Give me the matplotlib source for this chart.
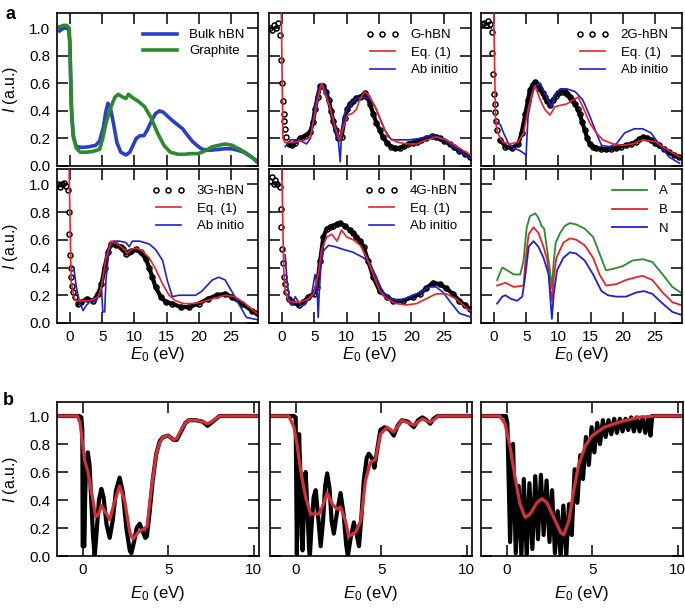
import matplotlib
matplotlib.use("Agg")
import matplotlib.pyplot as plt
from matplotlib.lines import Line2D
import numpy as np

plt.rcParams['font.family'] = ['Liberation Sans', 'DejaVu Sans']
plt.rcParams['mathtext.fontset'] = 'custom'
plt.rcParams['mathtext.rm'] = 'Liberation Sans'
plt.rcParams['mathtext.it'] = 'Liberation Sans:italic'

# ---------------- data: panel a ----------------
bulk_x = [-1.6,-1.0,-0.5,-0.2,0.0,0.2,0.5,1.0,2.0,3.0,4.0,4.6,5.2,5.6,5.9,6.3,6.8,7.3,7.9,8.7,9.3,9.8,10.3,10.9,11.5,12.0,12.7,13.3,13.9,14.5,15.2,15.9,16.7,17.5,18.3,19.0,19.7,20.4,21.2,22.0,23.0,24.0,25.0,26.0,27.0,28.0,29.0]
bulk_y = [0.98,1.0,1.0,0.99,0.9,0.45,0.22,0.14,0.135,0.14,0.15,0.18,0.28,0.40,0.455,0.42,0.3,0.17,0.1,0.08,0.1,0.15,0.2,0.22,0.22,0.26,0.33,0.38,0.40,0.39,0.36,0.33,0.3,0.27,0.22,0.18,0.15,0.125,0.115,0.115,0.12,0.125,0.125,0.115,0.1,0.07,0.04]
graph_x = [-1.6,-1.0,-0.5,-0.1,0.1,0.3,0.6,1.0,1.6,2.5,3.5,4.2,4.6,5.1,5.6,6.3,7.0,7.5,8.2,8.7,9.1,9.9,10.6,11.6,12.6,13.6,14.6,15.6,16.8,17.8,18.8,19.9,21.0,22.1,23.1,24.1,25.2,26.2,27.2,28.2,29.0]
graph_y = [1.01,1.02,1.02,1.0,0.7,0.35,0.2,0.13,0.1,0.1,0.105,0.115,0.12,0.2,0.31,0.42,0.5,0.52,0.5,0.49,0.52,0.49,0.47,0.43,0.35,0.24,0.15,0.1,0.085,0.085,0.09,0.09,0.11,0.14,0.15,0.16,0.15,0.125,0.1,0.065,0.03]

g_exp_x = [-1.8,-1.5,-1.2,-0.9,-0.6,-0.26,-0.1,0.0,0.15,0.26,0.36,0.5,0.67,1.03,1.54,2.0,2.8,3.6,4.4,4.8,5.1,5.5,5.9,6.4,6.8,7.2,7.6,7.9,8.3,8.7,9.2,9.7,10.1,10.5,11.0,11.5,12.0,12.4,12.8,13.2,13.6,14.1,14.6,15.1,15.6,16.2,16.9,17.5,18.2,18.9,19.5,20.2,20.8,21.5,22.3,23.1,23.8,24.4,25.1,25.9,26.6,27.4,28.2,29.1]
g_exp_y = [1.0,0.99,1.02,1.0,1.04,0.95,0.77,0.6,0.47,0.38,0.33,0.27,0.21,0.16,0.15,0.17,0.2,0.22,0.25,0.32,0.41,0.5,0.58,0.58,0.54,0.48,0.4,0.33,0.26,0.2,0.21,0.35,0.41,0.45,0.47,0.49,0.5,0.51,0.53,0.5,0.45,0.38,0.31,0.26,0.21,0.17,0.14,0.13,0.13,0.145,0.16,0.17,0.175,0.19,0.2,0.215,0.21,0.2,0.18,0.16,0.135,0.11,0.09,0.065]
g_eq_x = [-0.15,0.15,0.5,1.0,2.3,3.6,4.4,5.1,5.6,6.15,6.6,7.4,8.2,8.9,9.5,10.1,10.8,11.5,12.0,12.8,13.6,14.4,15.4,16.4,17.7,19.2,20.8,22.3,23.8,25.4,27.4,29.1]
g_eq_y = [1.3,0.2,0.17,0.17,0.175,0.19,0.21,0.38,0.5,0.6,0.53,0.43,0.285,0.19,0.28,0.37,0.38,0.41,0.48,0.54,0.5,0.43,0.31,0.21,0.175,0.16,0.16,0.19,0.21,0.19,0.13,0.08]
g_ab_x = [0.5,1.3,2.6,3.8,4.4,5.1,5.9,6.7,7.4,8.2,8.7,9.0,9.2,9.7,10.5,11.5,12.6,13.6,14.6,15.9,16.9,18.2,19.7,21.3,22.8,24.4,25.9,27.4,29.1]
g_ab_y = [0.14,0.19,0.19,0.16,0.2,0.43,0.59,0.56,0.43,0.26,0.19,0.03,0.24,0.38,0.45,0.49,0.5,0.49,0.41,0.26,0.19,0.19,0.19,0.2,0.22,0.21,0.16,0.11,0.055]

g2_exp_x = [-1.8,-1.5,-1.2,-0.9,-0.6,-0.35,-0.25,-0.1,0.0,0.1,0.2,0.3,0.5,1.0,1.8,2.8,3.8,4.3,4.9,5.3,5.6,6.0,6.4,6.8,7.2,7.6,7.9,8.3,8.7,9.2,9.6,10.0,10.5,11.0,11.4,11.8,12.2,12.6,13.0,13.3,13.7,14.1,14.5,14.9,15.4,15.9,16.6,17.4,18.2,19.0,19.7,20.5,21.3,22.0,22.6,23.1,23.7,24.4,25.0,25.6,26.4,27.2,28.0,28.8]
g2_exp_y = [1.03,1.04,1.02,1.05,1.03,0.97,0.82,0.67,0.52,0.45,0.39,0.33,0.26,0.19,0.14,0.13,0.16,0.24,0.38,0.48,0.55,0.59,0.61,0.59,0.56,0.53,0.5,0.47,0.44,0.48,0.51,0.53,0.54,0.54,0.52,0.5,0.48,0.45,0.41,0.38,0.32,0.26,0.2,0.16,0.14,0.13,0.125,0.12,0.125,0.13,0.14,0.15,0.16,0.175,0.195,0.21,0.205,0.19,0.17,0.15,0.125,0.1,0.08,0.065]
g2_eq_x = [-0.1,0.25,0.5,1.3,2.6,3.8,4.6,5.4,6.4,7.2,7.9,8.7,9.5,10.3,11.3,12.3,13.1,13.8,14.9,15.9,16.9,18.5,20.0,21.5,23.1,25.1,27.2,28.9]
g2_eq_y = [1.3,0.35,0.25,0.175,0.16,0.175,0.24,0.43,0.58,0.48,0.41,0.37,0.43,0.44,0.45,0.48,0.5,0.43,0.31,0.24,0.19,0.16,0.15,0.16,0.19,0.175,0.11,0.065]
g2_ab_x = [0.25,1.0,1.5,2.3,3.1,4.1,5.0,5.3,6.2,7.2,8.2,8.9,9.5,10.3,11.3,12.6,13.8,14.9,15.9,16.7,17.9,19.0,20.3,21.8,23.1,24.4,25.6,27.2,28.8]
g2_ab_y = [0.32,0.3,0.24,0.16,0.13,0.11,0.08,0.36,0.58,0.6,0.5,0.43,0.52,0.56,0.56,0.54,0.48,0.36,0.24,0.15,0.14,0.16,0.24,0.27,0.27,0.24,0.16,0.065,0.02]

g3_exp_x = [-1.8,-1.5,-1.2,-0.9,-0.6,-0.36,-0.15,-0.1,0.0,0.1,0.2,0.36,0.5,0.77,1.3,1.8,2.6,3.6,4.4,4.9,5.4,5.9,6.4,7.2,7.9,8.3,8.7,9.2,9.5,10.3,11.0,11.8,12.3,12.8,13.3,14.1,14.9,15.9,17.2,18.5,20.0,21.5,22.8,24.1,25.1,26.7,28.2,29.0]
g3_exp_y = [1.0,0.98,1.0,1.01,0.99,0.96,0.8,0.64,0.49,0.40,0.33,0.27,0.22,0.19,0.14,0.15,0.175,0.16,0.21,0.28,0.4,0.51,0.57,0.56,0.55,0.53,0.5,0.51,0.52,0.53,0.51,0.46,0.40,0.33,0.26,0.19,0.15,0.14,0.115,0.115,0.14,0.175,0.2,0.21,0.19,0.14,0.09,0.07]
g3_eq_x = [-0.2,0.2,0.5,0.8,1.8,3.1,4.4,4.9,5.6,6.4,7.4,8.5,8.9,9.5,10.3,11.3,12.3,13.3,14.4,15.4,16.4,17.7,19.0,20.5,22.1,24.1,25.6,27.2,29.0]
g3_eq_y = [1.3,0.3,0.22,0.16,0.16,0.16,0.19,0.26,0.47,0.59,0.57,0.53,0.5,0.53,0.54,0.52,0.47,0.39,0.28,0.2,0.16,0.14,0.14,0.15,0.175,0.2,0.19,0.14,0.07]
g3_ab_x = [0.25,0.6,1.0,1.5,2.05,2.6,3.3,4.1,4.6,4.9,5.1,5.4,5.6,6.05,6.7,7.7,8.7,9.2,9.7,10.8,12.3,13.3,14.4,15.1,15.9,16.9,17.9,19.5,20.5,22.1,23.1,24.1,25.1,26.2,27.4,29.0]
g3_ab_y = [0.4,0.4,0.26,0.15,0.09,0.13,0.16,0.16,0.21,0.26,0.08,0.08,0.31,0.52,0.59,0.59,0.58,0.55,0.59,0.59,0.57,0.53,0.45,0.31,0.19,0.2,0.2,0.2,0.23,0.31,0.33,0.31,0.23,0.14,0.04,0.025]

g4_exp_x = [-1.9,-1.6,-1.3,-1.0,-0.7,-0.36,-0.2,-0.1,0.0,0.1,0.26,0.41,0.67,1.03,1.54,2.56,3.3,4.1,4.9,5.4,5.9,6.4,6.9,7.4,7.9,8.5,9.0,9.7,10.5,11.0,11.5,12.1,12.6,13.3,14.1,15.1,16.2,17.2,18.7,20.3,21.3,22.3,23.3,24.4,25.4,26.4,27.4,28.2,29.0]
g4_exp_y = [1.02,1.05,1.0,1.03,1.0,0.98,0.82,0.69,0.53,0.43,0.33,0.28,0.22,0.175,0.15,0.13,0.15,0.19,0.21,0.26,0.45,0.62,0.68,0.69,0.7,0.71,0.72,0.7,0.67,0.65,0.62,0.59,0.55,0.45,0.33,0.23,0.19,0.16,0.16,0.19,0.21,0.25,0.29,0.28,0.25,0.21,0.16,0.13,0.1]
g4_eq_x = [-0.1,0.26,0.5,1.0,1.8,2.8,4.1,4.9,5.6,6.15,6.9,7.7,8.5,9.2,10.0,11.0,12.1,13.1,14.1,15.1,16.2,17.7,19.2,20.8,22.3,23.8,25.4,26.9,29.0]
g4_eq_y = [1.3,0.4,0.23,0.16,0.15,0.15,0.175,0.21,0.35,0.53,0.62,0.64,0.59,0.67,0.62,0.6,0.56,0.47,0.35,0.23,0.175,0.14,0.13,0.14,0.175,0.21,0.21,0.175,0.09]
g4_ab_x = [0.5,0.77,1.2,1.54,2.05,2.56,3.1,3.8,4.6,5.1,5.4,5.6,5.75,6.0,6.4,7.2,8.2,9.5,11.0,12.6,13.6,14.6,15.6,16.9,18.2,19.7,21.3,22.8,23.8,24.9,26.2,27.4,29.0]
g4_ab_y = [0.49,0.31,0.15,0.13,0.19,0.15,0.12,0.15,0.21,0.35,0.29,0.04,0.21,0.40,0.52,0.56,0.55,0.53,0.51,0.47,0.43,0.33,0.22,0.175,0.16,0.19,0.22,0.26,0.26,0.22,0.14,0.07,0.045]

A_x = [0.5,1.3,2.05,3.1,4.1,4.6,5.1,5.6,6.4,6.9,7.4,7.8,8.2,8.7,9.0,9.3,9.6,10.3,11.0,11.8,12.8,14.1,15.4,16.4,17.4,18.5,20.0,21.5,23.1,24.6,26.2,27.7,29.0]
A_y = [0.31,0.40,0.38,0.35,0.35,0.45,0.69,0.77,0.79,0.76,0.7,0.68,0.55,0.38,0.25,0.45,0.58,0.65,0.7,0.72,0.71,0.68,0.62,0.5,0.38,0.39,0.41,0.45,0.46,0.44,0.35,0.26,0.22]
B_x = [0.5,1.8,3.1,4.6,4.9,5.4,6.15,6.9,7.7,8.3,8.8,9.0,9.3,9.7,10.8,11.8,12.8,14.1,15.4,16.4,17.4,19.0,20.5,22.1,23.1,24.6,26.2,27.7,29.0]
B_y = [0.27,0.29,0.26,0.27,0.45,0.64,0.69,0.65,0.55,0.45,0.23,0.16,0.33,0.47,0.58,0.61,0.6,0.56,0.47,0.35,0.27,0.28,0.31,0.33,0.34,0.31,0.22,0.15,0.13]
N_x = [0.5,1.3,1.8,2.6,3.6,4.4,4.9,5.4,6.15,6.9,7.7,8.5,8.8,9.0,9.3,9.8,10.8,11.8,12.8,14.1,15.4,16.7,17.7,19.0,20.5,22.1,23.3,24.6,26.2,27.7,29.0]
N_y = [0.14,0.19,0.2,0.175,0.16,0.19,0.35,0.55,0.59,0.55,0.47,0.35,0.16,0.03,0.21,0.38,0.47,0.51,0.5,0.45,0.35,0.23,0.2,0.19,0.19,0.22,0.23,0.21,0.14,0.08,0.06]

# ---------------- data: panel b ----------------
b1_blk_x = [-1.5,-0.2,-0.08,-0.02,0.0,0.1,0.14,0.2,0.3,0.4,0.5,0.6,0.7,0.8,0.95,1.09,1.22,1.4,1.58,1.75,1.95,2.16,2.35,2.55,2.75,2.84,3.0,3.15,3.33,3.5,3.65,3.75,3.9,4.1,4.3,4.5,4.7,5.0,5.3,5.5,5.75,6.0,6.2,6.6,7.0,7.3,7.5,7.7,8.0,10.3]
b1_blk_y = [1.0,1.0,0.99,0.9,0.07,0.07,0.4,0.65,0.74,0.65,0.4,0.15,0.0,0.15,0.4,0.48,0.42,0.22,0.13,0.25,0.47,0.56,0.45,0.2,0.04,0.02,0.1,0.2,0.23,0.18,0.13,0.14,0.3,0.55,0.73,0.82,0.85,0.86,0.83,0.83,0.89,0.95,0.97,0.97,0.96,0.93,0.95,0.97,1.0,1.0]
b1_red_x = [-1.5,-0.3,-0.15,0.0,0.12,0.31,0.5,0.76,0.9,1.09,1.29,1.58,1.87,2.16,2.46,2.75,2.94,3.24,3.53,3.76,4.0,4.3,4.5,4.7,5.0,5.3,5.5,5.75,6.0,6.2,6.6,7.0,7.3,7.6,8.0,10.3]
b1_red_y = [1.0,1.0,0.95,0.8,0.68,0.6,0.47,0.28,0.29,0.36,0.32,0.26,0.39,0.5,0.39,0.17,0.12,0.17,0.19,0.21,0.47,0.73,0.81,0.85,0.86,0.83,0.84,0.9,0.95,0.97,0.97,0.96,0.945,0.965,1.0,1.0]

b2_blk_x = [-1.5,-0.1,0.0,0.04,0.07,0.12,0.2,0.27,0.35,0.4,0.47,0.58,0.68,0.78,0.83,0.92,1.05,1.17,1.3,1.46,1.6,1.72,1.84,1.98,2.1,2.23,2.4,2.62,2.8,2.95,3.05,3.2,3.4,3.55,3.7,3.85,3.98,4.15,4.27,4.45,4.6,4.75,4.95,5.2,5.5,5.73,5.95,6.2,6.55,6.9,7.15,7.4,7.65,7.86,8.05,8.3,10.3]
b2_blk_y = [1.0,1.0,0.99,0.4,0.01,0.6,0.87,0.6,0.15,0.04,0.3,0.6,0.35,0.05,0.0,0.2,0.42,0.47,0.3,0.07,0.25,0.5,0.59,0.48,0.25,0.16,0.3,0.45,0.3,0.08,0.0,0.12,0.24,0.16,0.07,0.3,0.54,0.7,0.73,0.7,0.63,0.75,0.9,0.92,0.9,0.86,0.93,0.97,0.96,0.92,0.97,0.99,0.97,0.945,0.98,1.0,1.0]
b2_red_x = [-1.5,-0.4,-0.1,0.1,0.29,0.58,0.87,1.36,1.55,1.84,2.14,2.43,2.62,2.91,3.1,3.5,3.8,4.08,4.37,4.66,4.95,5.34,5.73,6.2,6.9,7.4,7.86,8.35,10.3]
b2_red_y = [1.0,1.0,0.92,0.78,0.61,0.42,0.3,0.3,0.35,0.45,0.37,0.335,0.35,0.25,0.14,0.17,0.25,0.54,0.67,0.69,0.87,0.92,0.885,0.97,0.935,0.98,0.955,1.0,1.0]

b3_blk_x = [-1.5,-0.05,0.04,0.2,0.37,0.53,0.7,0.86,1.0,1.17,1.33,1.5,1.67,1.83,2.0,2.16,2.33,2.5,2.65,2.82,2.98,3.15,3.31,3.48,3.64,3.8,3.97,4.13,4.3,4.46,4.63,4.8,4.96,5.12,5.29,5.45,5.62,5.78,5.95,6.11,6.28,6.44,6.61,6.77,6.94,7.1,7.27,7.43,7.6,7.76,7.93,8.1,8.26,8.4,8.5,10.3]
b3_blk_y = [1.0,1.0,0.95,0.1,0.8,0.02,0.5,0.0,0.55,0.0,0.52,0.05,0.57,0.12,0.58,0.15,0.54,0.1,0.47,0.02,0.32,0.0,0.36,0.0,0.37,0.15,0.62,0.38,0.72,0.55,0.85,0.65,0.92,0.74,0.95,0.8,0.97,0.85,0.97,0.87,0.98,0.88,0.98,0.89,0.98,0.9,0.99,0.89,0.99,0.89,0.99,0.88,0.99,0.86,1.0,1.0]
b3_red_x = [-1.5,-0.4,-0.1,0.2,0.49,0.78,1.08,1.37,1.76,2.06,2.35,2.75,3.14,3.33,3.63,3.92,4.2,4.6,5.0,5.7,6.67,7.65,8.6,10.3]
b3_red_y = [1.0,1.0,0.945,0.78,0.56,0.37,0.275,0.3,0.38,0.41,0.38,0.275,0.17,0.15,0.25,0.47,0.65,0.79,0.86,0.92,0.96,0.99,1.0,1.0]

a_xticks = [0, 5, 10, 15, 20, 25]
b_xticks = [0, 5, 10]
yticks = [0.0, 0.2, 0.4, 0.6, 0.8, 1.0]

# ---------------- styling ----------------
W, H = 685, 610
fig = plt.figure(figsize=(W / 100, H / 100), dpi=100)

def rect(l, t, r, b):
    return [l / W, 1 - b / H, (r - l) / W, (b - t) / H]

cols_a = [(57, 258), (269, 471), (481, 682)]
rows_a = [(13, 166), (169, 323)]
cols_b = [(57, 259), (270, 472), (481, 683)]
row_b = (402, 556)

RED = '#e8232b'
BLUE = '#1f1fd2'
TICKFS = 11
LEGFS = 9.5

def style(ax, xlim, xticks, show_xlab, show_ylab):
    ax.set_xlim(*xlim)
    ax.set_ylim(0, 1.11)
    ax.set_xticks(xticks)
    ax.set_yticks(yticks)
    ax.tick_params(direction='in', length=8, width=1.1, top=True, right=True,
                   labelsize=TICKFS, pad=5)
    for s in ax.spines.values():
        s.set_linewidth(1.2)
    if not show_xlab:
        ax.set_xticklabels([])
    if show_ylab:
        ax.set_yticklabels(['%.1f' % v for v in yticks])
    else:
        ax.set_yticklabels([])

axes_a = []
for r in range(2):
    for c in range(3):
        ax = fig.add_axes(rect(cols_a[c][0], rows_a[r][0], cols_a[c][1], rows_a[r][1]))
        style(ax, (-2.0, 29.2), a_xticks, r == 1, c == 0)
        axes_a.append(ax)

def plot_exp(ax, x, y):
    x = np.asarray(x); y = np.asarray(y)
    ax.plot(x, y, ls='none', marker='o', ms=3.6, mfc='none', mec='black', mew=1.1, zorder=2)
    ax.plot(x[x > 0.9], y[x > 0.9], color='black', lw=3.0, zorder=2)

def exp_handle():
    return Line2D([], [], ls='none', marker='o', ms=3.6, mfc='none', mec='black', mew=1.1)

# a1
ax = axes_a[0]
ax.plot(bulk_x, bulk_y, color='#2b3ec9', lw=2.6)
ax.plot(graph_x, graph_y, color='#2b8a2b', lw=2.6)
ax.legend(['Bulk hBN', 'Graphite'], loc='upper right', bbox_to_anchor=(0.96, 0.93),
          frameon=False, fontsize=LEGFS, handlelength=2.6, handletextpad=0.9,
          labelspacing=0.3, borderaxespad=0)

panels = [
    (axes_a[1], 'G-hBN', g_exp_x, g_exp_y, g_eq_x, g_eq_y, g_ab_x, g_ab_y),
    (axes_a[2], '2G-hBN', g2_exp_x, g2_exp_y, g2_eq_x, g2_eq_y, g2_ab_x, g2_ab_y),
    (axes_a[3], '3G-hBN', g3_exp_x, g3_exp_y, g3_eq_x, g3_eq_y, g3_ab_x, g3_ab_y),
    (axes_a[4], '4G-hBN', g4_exp_x, g4_exp_y, g4_eq_x, g4_eq_y, g4_ab_x, g4_ab_y),
]
for ax, lab, ex, ey, qx, qy, bx, by in panels:
    plot_exp(ax, ex, ey)
    ax.plot(bx, by, color=BLUE, lw=1.2, zorder=3)
    ax.plot(qx, qy, color=RED, lw=1.2, zorder=4)
    hs = [exp_handle(), Line2D([], [], color=RED, lw=1.2), Line2D([], [], color=BLUE, lw=1.2)]
    ax.legend(hs, [lab, 'Eq. (1)', 'Ab initio'], loc='upper right', bbox_to_anchor=(0.96, 0.93),
              frameon=False, fontsize=LEGFS, handlelength=2.5, handletextpad=0.9,
              labelspacing=0.4, borderaxespad=0, numpoints=3)

ax = axes_a[5]
ax.plot(A_x, A_y, color='#2b8a2b', lw=1.3)
ax.plot(B_x, B_y, color=RED, lw=1.3)
ax.plot(N_x, N_y, color=BLUE, lw=1.3)
ax.legend(['A', 'B', 'N'], loc='upper right', bbox_to_anchor=(0.96, 0.93),
          frameon=False, fontsize=LEGFS, handlelength=2.7, handletextpad=0.9,
          labelspacing=0.5, borderaxespad=0)

for i in (0, 3):
    axes_a[i].set_ylabel(r'$I$ (a.u.)', fontsize=11.5)
    axes_a[i].yaxis.set_label_coords(-0.185, 0.5)
for i in (3, 4, 5):
    axes_a[i].set_xlabel(r'$E_0$ (eV)', fontsize=12)
    axes_a[i].xaxis.set_label_coords(0.5, -0.14)

# b
axes_b = []
bdata = [(b1_blk_x, b1_blk_y, b1_red_x, b1_red_y),
         (b2_blk_x, b2_blk_y, b2_red_x, b2_red_y),
         (b3_blk_x, b3_blk_y, b3_red_x, b3_red_y)]
for c in range(3):
    ax = fig.add_axes(rect(cols_b[c][0], row_b[0], cols_b[c][1], row_b[1]))
    style(ax, (-1.5, 10.3), b_xticks, True, c == 0)
    ax.set_ylim(0, 1.1)
    kx, ky, rx, ry = bdata[c]
    ax.plot(kx, ky, color='black', lw=3.0, solid_joinstyle='round')
    ax.plot(rx, ry, color='#d3303a', lw=2.3, solid_joinstyle='round')
    ax.set_xlabel(r'$E_0$ (eV)', fontsize=12)
    ax.xaxis.set_label_coords(0.5, -0.18)
    axes_b.append(ax)
axes_b[0].set_ylabel(r'$I$ (a.u.)', fontsize=11.5)
axes_b[0].yaxis.set_label_coords(-0.185, 0.5)

fig.text(5 / W, 1 - 19 / H, 'a', fontsize=13, fontweight='bold')
fig.text(3 / W, 1 - 405 / H, 'b', fontsize=13, fontweight='bold')

fig.savefig('out.png', dpi=100)
